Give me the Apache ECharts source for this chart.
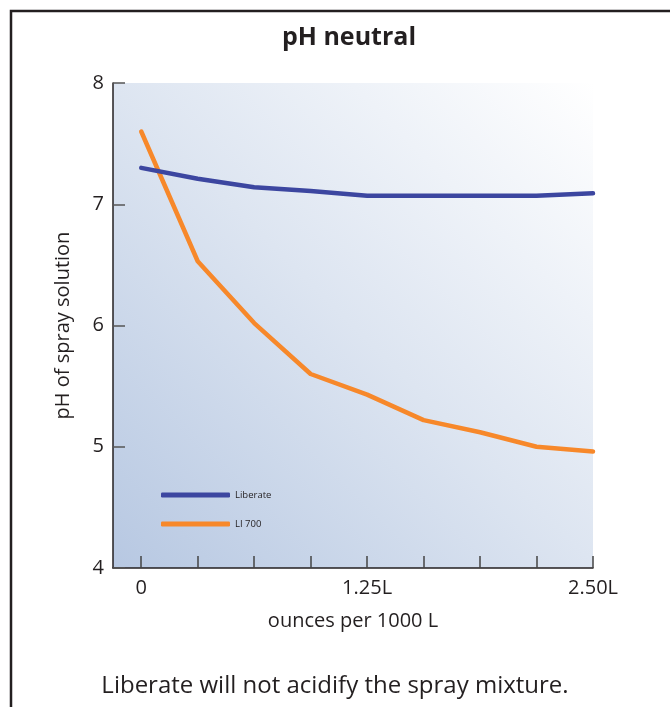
<!DOCTYPE html>
<html>
<head>
<meta charset="utf-8">
<script src="https://cdn.jsdelivr.net/npm/echarts@6/dist/echarts.min.js"></script>
<style>
html,body{margin:0;padding:0;background:#fff;}
#chart{width:670px;height:707px;}
</style>
</head>
<body>
<div id="chart"></div>
<script>
// x positions are dose steps: 0 .. 8  (0 = 0, 4 = 1.25L, 8 = 2.50L)
const doseSteps = [0, 1, 2, 3, 4, 5, 6, 7, 8];
const tickLabels = { 0: '0', 4: '1.25L', 8: '2.50L' };
const labelSteps = [0, 4, 8];
const liberate = [7.30, 7.21, 7.14, 7.11, 7.07, 7.07, 7.07, 7.07, 7.09];
const li700 = [7.60, 6.53, 6.02, 5.60, 5.43, 5.22, 5.12, 5.00, 4.96];
const seriesNames = ['Liberate', 'LI 700'];

const FONT = '"Open Sans", "Noto Sans", sans-serif';
const chart = echarts.init(document.getElementById('chart'), null, { renderer: 'canvas' });

function pairs(vals) { return doseSteps.map((x, i) => [x, vals[i]]); }

chart.setOption({
  backgroundColor: '#ffffff',
  animation: false,
  title: {
    text: 'pH neutral',
    left: 344, top: 20, textAlign: 'center',
    textStyle: { fontFamily: FONT, fontSize: 25, fontWeight: 'bold', color: '#231f20' }
  },
  graphic: [
    {
      type: 'rect', silent: true, z: 100,
      shape: { x: 11, y: 11, width: 720, height: 740 },
      style: { fill: 'none', stroke: '#231f20', lineWidth: 2.5 }
    },
    {
      type: 'text', left: 'center', top: 674,
      style: { text: 'Liberate will not acidify the spray mixture.', fontFamily: FONT, fontSize: 24, fill: '#231f20' }
    }
  ],
  legend: {
    data: seriesNames,
    orient: 'vertical',
    left: 156, top: 484,
    itemWidth: 69, itemHeight: 5,
    itemGap: 17,
    icon: 'roundRect',
    textStyle: { fontFamily: FONT, fontSize: 9.5, color: '#231f20', lineHeight: 12 }
  },
  grid: {
    left: 113, right: 77, top: 83, bottom: 139,
    show: true, borderWidth: 0,
    backgroundColor: new echarts.graphic.LinearGradient(0, 1, 1, 0, [
      { offset: 0, color: '#b7c8e2' },
      { offset: 0.5, color: '#dde5f1' },
      { offset: 1, color: '#ffffff' }
    ])
  },
  xAxis: {
    type: 'value', min: -0.5, max: 8,
    name: 'ounces per 1000 L', nameLocation: 'middle', nameGap: 43,
    nameTextStyle: { fontFamily: FONT, fontSize: 20, color: '#231f20' },
    splitLine: { show: false },
    axisLine: { show: true, onZero: false, lineStyle: { color: '#231f20', width: 1.5 } },
    axisTick: { show: true, inside: true, length: 12, customValues: doseSteps, lineStyle: { color: '#444', width: 1.5 } },
    axisLabel: {
      customValues: labelSteps, margin: 10,
      fontFamily: FONT, fontSize: 20, color: '#231f20',
      formatter: v => tickLabels[v] !== undefined ? tickLabels[v] : ''
    }
  },
  yAxis: {
    type: 'value', min: 4, max: 8, interval: 1,
    name: 'pH of spray solution', nameLocation: 'middle', nameGap: 40,
    nameTextStyle: { fontFamily: FONT, fontSize: 20, color: '#231f20' },
    splitLine: { show: false },
    axisLine: { show: true, onZero: false, lineStyle: { color: '#231f20', width: 1.5 } },
    axisTick: { show: true, inside: true, length: 12, lineStyle: { color: '#555', width: 1.5 } },
    axisLabel: { margin: 9, fontFamily: FONT, fontSize: 20, color: '#231f20' }
  },
  series: [
    {
      name: seriesNames[1], type: 'line', data: pairs(li700),
      symbol: 'none', smooth: false, color: '#f7882a',
      lineStyle: { width: 4.5, color: '#f7882a', cap: 'round', join: 'round' }
    },
    {
      name: seriesNames[0], type: 'line', data: pairs(liberate),
      symbol: 'none', smooth: false, color: '#3c46a0',
      lineStyle: { width: 4.5, color: '#3c46a0', cap: 'round', join: 'round' }
    }
  ]
});
</script>
</body>
</html>
